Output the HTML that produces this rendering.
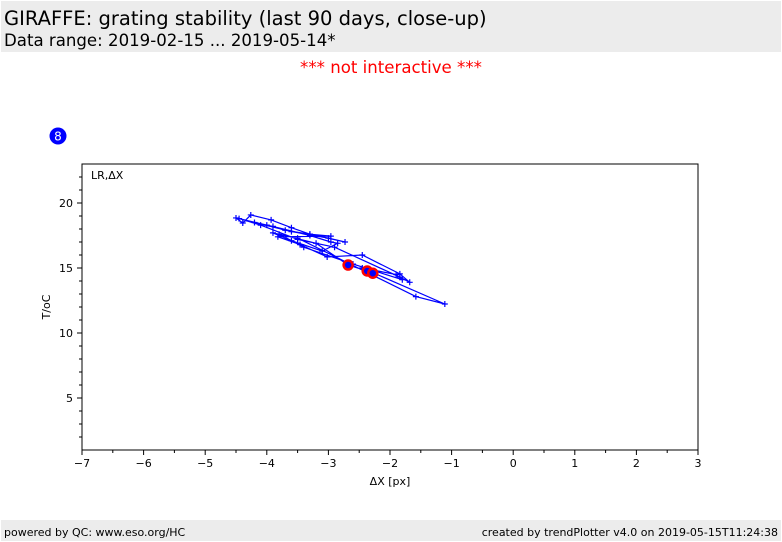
<!DOCTYPE html>
<html><head><meta charset="utf-8"><style>
body{margin:0;width:782px;height:542px;background:#fff;font-family:"DejaVu Sans","Liberation Sans",sans-serif;position:relative;overflow:hidden}
.hdr{position:absolute;left:1px;top:1px;width:780px;height:51px;background:#ececec}
.t1{position:absolute;left:3px;top:6px;font-size:19.5px;color:#000}
.t2{position:absolute;left:3px;top:30px;font-size:16.6px;color:#000}
.ni{position:absolute;left:0;width:782px;top:58px;text-align:center;color:red;font-size:16.6px}
.ftr{position:absolute;left:1px;top:520px;width:780px;height:21px;background:#ececec;font-size:11px}
</style></head><body>
<div class="hdr">
<div class="t1">GIRAFFE: grating stability (last 90 days, close-up)</div>
<div class="t2">Data range: 2019-02-15 ... 2019-05-14*</div></div>
<div class="ni">*** not interactive ***</div>
<svg width="782" height="542" style="position:absolute;left:0;top:0" id="svg">
<circle cx="58" cy="136" r="8.5" fill="#0000ff"/>
<text x="58" y="140.5" fill="#fff" font-size="12" text-anchor="middle">8</text>
<rect x="82" y="164" width="616" height="286" fill="none" stroke="#000" stroke-width="1"/>
<text x="91" y="179" font-size="11">LR,ΔX</text>
<text x="390" y="485" font-size="11" text-anchor="middle">ΔX [px]</text>
<text x="50" y="307" font-size="11" text-anchor="middle" transform="rotate(-90 50 307)">T/oC</text>
<g id="g"></g>
</svg>
<div class="ftr"><span style="position:absolute;left:3px;top:6px">powered by QC: www.eso.org/HC</span><span style="position:absolute;right:3px;top:6px">created by trendPlotter v4.0 on 2019-05-15T11:24:38</span></div>
<script>
const xTicks=[-7,-6,-5,-4,-3,-2,-1,0,1,2,3];
const yTicks=[5,10,15,20];
const dx=[-4.5,-4.39,-4.26,-3.93,-3.6,-3.3,-2.96,-3.82,-3.46,-3.02,-2.45,-1.84,-1.68,-1.84,-2.9,-3.5,-4.1,-4.45,-4.0,-3.7,-3.3,-2.73,-3.0,-3.6,-4.2,-3.9,-3.3,-2.96,-2.85,-3.1,-3.6,-3.9,-3.5,-1.58,-1.11,-2.45,-1.9,-1.8,-2.6,-3.4,-3.8,-3.2,-2.68,-2.37,-2.28];
const dy=[18.85,18.46,19.08,18.7,18.1,17.6,17.45,17.4,16.8,15.85,16.0,14.55,13.9,14.3,16.6,17.2,18.3,18.8,18.3,17.9,17.6,17.0,17.3,17.8,18.5,18.2,17.5,17.0,16.9,16.3,17.1,17.7,17.3,12.8,12.23,15.0,14.5,14.1,15.3,16.6,17.6,16.9,15.23,14.77,14.6];
const red=[42,43,44];
const X=v=>82+(v+7)*61.6, Y=v=>450-(v-1)*13;
const g=document.getElementById('g');const ns='http://www.w3.org/2000/svg';
function mk(t,a){const e=document.createElementNS(ns,t);for(const k in a)e.setAttribute(k,a[k]);g.appendChild(e);return e;}
xTicks.forEach(v=>{const l=mk('line',{x1:X(v),x2:X(v),y1:450,y2:455,stroke:'#000'});
const t=mk('text',{x:X(v),y:467,'font-size':11,'text-anchor':'middle'});t.textContent=(v<0?'−'+(-v):v);
if(v<3){const m=mk('line',{x1:X(v+0.5),x2:X(v+0.5),y1:450,y2:453,stroke:'#000'});}});
for(let v=2;v<=22;v++){const m=mk('line',{x1:79,x2:82,y1:Y(v),y2:Y(v),stroke:'#000'});}
yTicks.forEach(v=>{const l=mk('line',{x1:77,x2:82,y1:Y(v),y2:Y(v),stroke:'#000'});
const t=mk('text',{x:73,y:Y(v)+4,'font-size':11,'text-anchor':'end'});t.textContent=v;});
const pl=mk('polyline',{points:dx.map((v,i)=>X(v)+','+Y(dy[i])).join(' '),fill:'none',stroke:'#0000ff','stroke-width':1.2});

dx.forEach((v,i)=>{const p=mk('path',{d:`M${X(v)-3},${Y(dy[i])}h6M${X(v)},${Y(dy[i])-3}v6`,stroke:'#0000ff','stroke-width':1.2});});
red.forEach(i=>{const c=mk('circle',{cx:X(dx[i]),cy:Y(dy[i]),r:4.5,fill:'#0000ff',stroke:'red','stroke-width':2.5});});
</script>
</body></html>
